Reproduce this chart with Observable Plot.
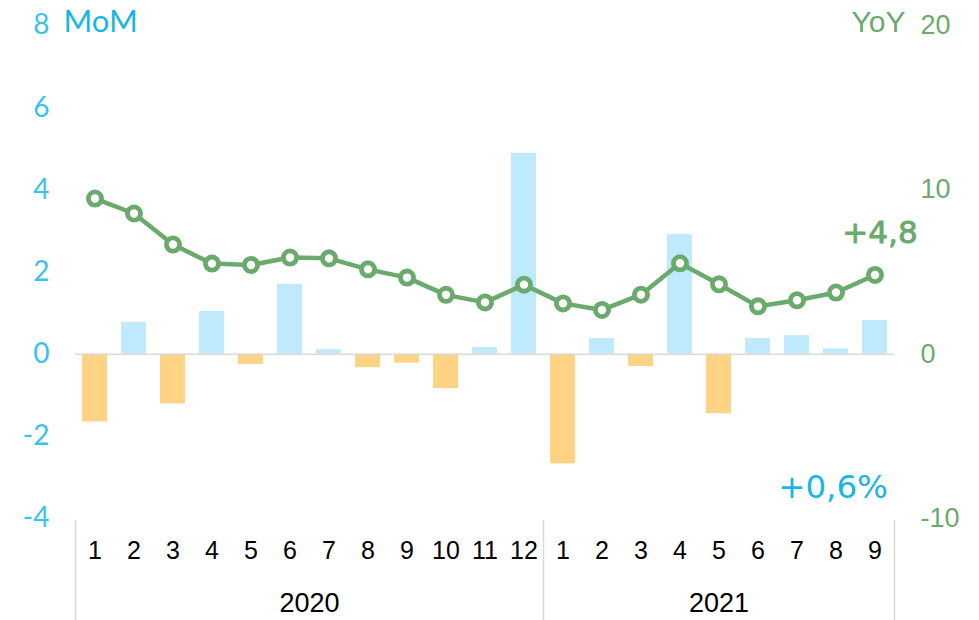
<!DOCTYPE html>
<html>
<head>
<meta charset="utf-8">
<script src="https://cdn.jsdelivr.net/npm/d3@7"></script>
<script src="https://cdn.jsdelivr.net/npm/@observablehq/plot@0.6"></script>
<style>
  html, body { margin: 0; padding: 0; background: #fff; }
  #chart svg { display: block; }
</style>
</head>
<body>
<div id="chart"></div>
<script>
// ---- data ----
const years  = [2020,2020,2020,2020,2020,2020,2020,2020,2020,2020,2020,2020,2021,2021,2021,2021,2021,2021,2021,2021,2021];
const months = [1,2,3,4,5,6,7,8,9,10,11,12,1,2,3,4,5,6,7,8,9];
const mom    = [-1.65,0.77,-1.21,1.04,-0.25,1.70,0.11,-0.33,-0.22,-0.84,0.16,4.89,-2.67,0.38,-0.30,2.91,-1.45,0.38,0.45,0.13,0.82];
const yoy    = [9.47,8.56,6.67,5.51,5.43,5.88,5.83,5.16,4.66,3.61,3.15,4.23,3.09,2.69,3.62,5.53,4.25,2.91,3.28,3.75,4.82];
const momTicks = [-4,-2,0,2,4,6,8];
const yoyTicks = [-10,0,10,20];
const momNote = "+0,6%";

// ---- styling ----
const W = 979, H = 620, mL = 75, mR = 85, mT = 25, mB = 102;
const POS = "#bfe9fd", NEG = "#fed384", GREEN = "#6aaa6c", CYAN = "#18b6e6", CYAN_AX = "#36c4ea";
const ratio = 2.5; // YoY scale (-10..20) mapped onto MoM scale (-4..8)

const data = months.map((m, i) => ({key: `${years[i]}-${m}`, year: years[i], month: m, mom: mom[i], yoy: yoy[i]}));
const keys = data.map(d => d.key);
const step = (W - mL - mR) / keys.length;

// year group labels & separators
const yearList = [...new Set(years)];
const yearMarks = yearList.map(y => {
  const first = years.indexOf(y), lastI = years.lastIndexOf(y);
  const c = (first + lastI) / 2, fi = Math.floor(c);
  return Plot.text([{key: keys[fi], year: String(y)}], {x: "key", y: -4, text: "year", dx: (c - fi) * step, dy: 85, fontSize: 27, fill: "#000", lineAnchor: "middle"});
});
const sepLeft = yearList.map(y => keys[years.indexOf(y)]);
const lastKey = keys[keys.length - 1];
const last = data[data.length - 1];

const chart = Plot.plot({
  width: W, height: H,
  marginLeft: mL, marginRight: mR, marginTop: mT, marginBottom: mB,
  style: {fontFamily: "'Liberation Sans', Arial, sans-serif", background: "#fff", overflow: "visible"},
  x: {type: "band", domain: keys, paddingInner: 0.36, paddingOuter: 0.18, axis: null},
  y: {domain: [-4, 8], axis: null, label: null},
  color: {type: "identity"},
  marks: [
    Plot.barY(data, {x: "key", y: "mom", fill: d => d.mom >= 0 ? POS : NEG}),
    Plot.ruleY([0], {stroke: "#d9d9d9", strokeWidth: 1.5}),
    // separators
    Plot.ruleX(sepLeft, {x: d => d, y1: -4.05, y2: -6.6, dx: -step / 2, stroke: "#d9d9d9", strokeWidth: 1.5}),
    Plot.ruleX([lastKey], {x: d => d, y1: -4.05, y2: -6.6, dx: step / 2, stroke: "#d9d9d9", strokeWidth: 1.5}),
    // YoY line
    Plot.line(data, {x: "key", y: d => d.yoy / ratio, stroke: GREEN, strokeWidth: 4.5}),
    Plot.dot(data, {x: "key", y: d => d.yoy / ratio, r: 6.6, fill: "white", stroke: GREEN, strokeWidth: 4.8}),
    // axes
    Plot.axisY(momTicks, {anchor: "left", tickSize: 0, tickPadding: 26, fontSize: 28, color: CYAN_AX, fontFamily: "Lato, sans-serif", tickFormat: v => String(v), label: null}),
    Plot.axisY(yoyTicks.map(v => v / ratio), {anchor: "right", tickSize: 0, tickPadding: 26, fontSize: 27, color: GREEN, tickFormat: v => String(Math.round(v * ratio)), label: null}),
    // month & year labels
    Plot.text(data, {x: "key", y: -4, text: d => String(d.month), dy: 32, fontSize: 25, fill: "#000", lineAnchor: "middle"}),
    ...yearMarks,
    // series titles
    Plot.text(["MoM"], {frameAnchor: "top-left", text: d => d, textAnchor: "start", lineAnchor: "middle", dx: -12, dy: -3, fontSize: 31, fill: CYAN, fontFamily: "Lato, sans-serif"}),
    Plot.text(["YoY"], {frameAnchor: "top-right", text: d => d, textAnchor: "end", lineAnchor: "middle", dx: 11, dy: -3, fontSize: 30, fill: GREEN}),
    // annotations
    Plot.text([last], {x: "key", y: d => d.yoy / ratio, text: d => "+" + d.yoy.toFixed(1).replace(".", ","), dx: 5, dy: -42, fontSize: 31, fill: GREEN, stroke: GREEN, strokeWidth: 0.9, lineAnchor: "middle", fontFamily: "'DejaVu Sans', sans-serif"}),
    Plot.text([last], {x: "key", y: -3.25, text: d => momNote, textAnchor: "end", dx: 13, fontSize: 32.5, fill: CYAN, lineAnchor: "middle", fontFamily: "'DejaVu Sans', sans-serif"})
  ]
});
document.getElementById("chart").append(chart);
</script>
</body>
</html>
